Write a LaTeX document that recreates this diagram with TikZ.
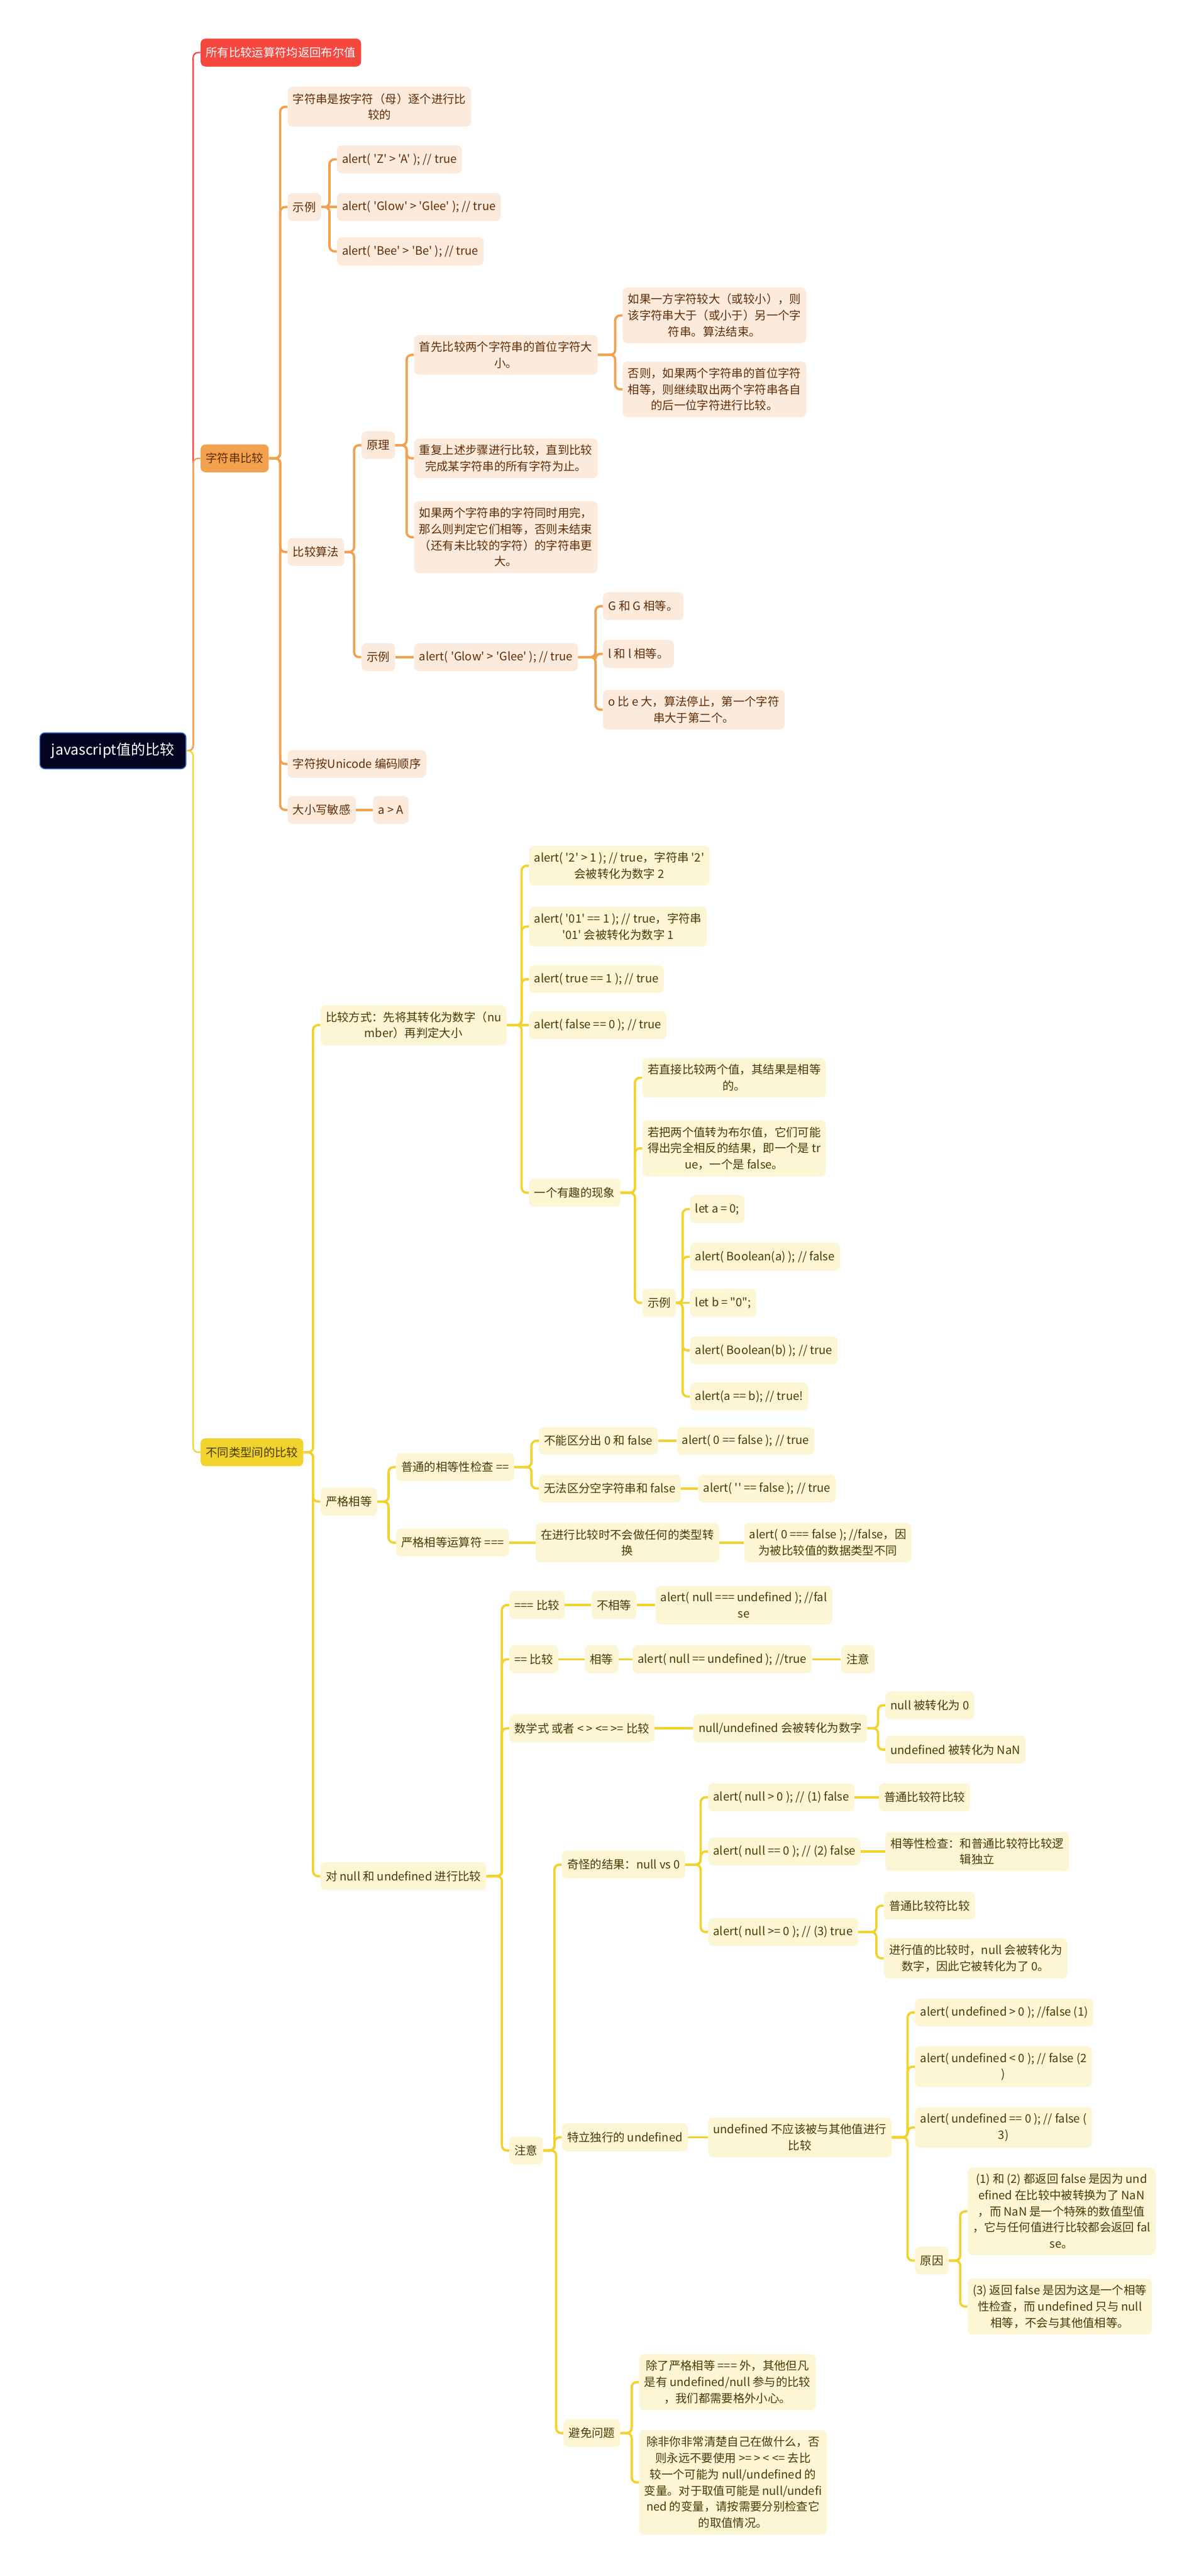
\documentclass[tikz,border=0pt]{standalone}
\usepackage{fontspec}
\newfontfamily\cjk{Noto Sans CJK SC}
\definecolor{rootnavy}{HTML}{03041F}
\definecolor{rootedge}{HTML}{3C78D8}
\definecolor{redbranch}{HTML}{F5473E}
\definecolor{orangebranch}{HTML}{F2A14F}
\definecolor{orangelight}{HTML}{FCEBDC}
\definecolor{orangeink}{HTML}{5E2C06}
\definecolor{yellowbranch}{HTML}{F2D22C}
\definecolor{yellowlight}{HTML}{FDF6D5}
\definecolor{yellowink}{HTML}{453A05}
\begin{document}
\begin{tikzpicture}[
		x=0.05cm, y=-0.05cm,
		box/.style={rounded corners=0.15cm, inner xsep=4.5pt, inner ysep=5.5pt, minimum height=0.85cm, align=center, anchor=west, font=\cjk\fontsize{10}{14}\selectfont},
		obox/.style={box, fill=orangelight, text=orangeink},
		ybox/.style={box, fill=yellowlight, text=yellowink},
		olink/.style={draw=orangebranch, line width=2pt, rounded corners=0.15cm},
		ylink/.style={draw=yellowbranch, line width=2pt, rounded corners=0.15cm},
		trunk/.style={line width=1.2pt, rounded corners=0.15cm}
		]
		
		\fill [white] (0,0) rectangle (730,1568);
		\useasboundingbox (0,0) rectangle (730,1568);
		
		% root and the three main branches
		\node (root) at (24,457) [box, fill=rootnavy, draw=rootedge, line width=0.8pt, text=white, inner xsep=3pt, minimum width=4.45cm, minimum height=1.1cm, font=\cjk\fontsize{12.5}{15}\selectfont] {javascript值的比较};
		\node (allbool) at (122,32) [box, fill=redbranch, text=white] {所有比较运算符均返回布尔值};
		\node (strcmp) at (122,279) [box, fill=orangebranch, text=orangeink] {字符串比较};
		\node (difftype) at (122,884) [box, fill=yellowbranch, text=yellowink] {不同类型间的比较};
		
		% string comparison
		\node (bychar) at (175,65) [obox] {字符串是按字符（母）逐个进行比\\较的};
		\node (strex) at (175,126) [obox] {示例};
		\node (strexa) at (205,97) [obox] {alert( 'Z' > 'A' ); // true};
		\node (strexb) at (205,126) [obox] {alert( 'Glow' > 'Glee' ); // true};
		\node (strexc) at (205,153) [obox] {alert( 'Bee' > 'Be' ); // true};
		\node (algo) at (175,336) [obox] {比较算法};
		\node (principle) at (220,271) [obox] {原理};
		\node (firstchar) at (252,216) [obox] {首先比较两个字符串的首位字符大\\小。};
		\node (bigger) at (379,192) [obox] {如果一方字符较大（或较小），则\\该字符串大于（或小于）另一个字\\符串。算法结束。};
		\node (otherwise) at (379,237) [obox] {否则，如果两个字符串的首位字符\\相等，则继续取出两个字符串各自\\的后一位字符进行比较。};
		\node (repeat) at (252,279) [obox] {重复上述步骤进行比较，直到比较\\完成某字符串的所有字符为止。};
		\node (bothend) at (252,327) [obox] {如果两个字符串的字符同时用完，\\那么则判定它们相等，否则未结束\\（还有未比较的字符）的字符串更\\大。};
		\node (algoex) at (220,400) [obox] {示例};
		\node (glow) at (252,400) [obox] {alert( 'Glow' > 'Glee' ); // true};
		\node (gg) at (367,369) [obox] {G 和 G 相等。};
		\node (ll) at (367,398) [obox] {l 和 l 相等。};
		\node (oe) at (367,432) [obox] {o 比 e 大，算法停止，第一个字符\\串大于第二个。};
		\node (unicode) at (175,465) [obox] {字符按Unicode 编码顺序};
		\node (casesens) at (175,493) [obox] {大小写敏感};
		\node (aA) at (227,493) [obox] {a > A};
		
		% comparison between types
		\node (tonum) at (195,624) [ybox] {比较方式：先将其转化为数字（nu\\mber）再判定大小};
		\node (twoone) at (322,527) [ybox] {alert( '2' > 1 ); // true，字符串 '2'\\会被转化为数字 2};
		\node (zeroone) at (322,564) [ybox] {alert( '01' == 1 ); // true，字符串\\'01' 会被转化为数字 1};
		\node (trueone) at (322,596) [ybox] {alert( true == 1 ); // true};
		\node (falsezero) at (322,624) [ybox] {alert( false == 0 ); // true};
		\node (funny) at (322,726) [ybox] {一个有趣的现象};
		\node (direct) at (391,656) [ybox] {若直接比较两个值，其结果是相等\\的。};
		\node (boolconv) at (391,699) [ybox] {若把两个值转为布尔值，它们可能\\得出完全相反的结果，即一个是 tr\\ue，一个是 false。};
		\node (funnyex) at (391,793) [ybox] {示例};
		\node (leta) at (420,736) [ybox] {let a = 0;};
		\node (boola) at (420,765) [ybox] {alert( Boolean(a) ); // false};
		\node (letb) at (420,793) [ybox] {let b = "0";};
		\node (boolb) at (420,822) [ybox] {alert( Boolean(b) ); // true};
		\node (aeqb) at (420,850) [ybox] {alert(a == b); // true!};
		
		\node (strict) at (195,914) [ybox] {严格相等};
		\node (looseeq) at (241,893) [ybox] {普通的相等性检查 ==};
		\node (zerofalse) at (328,877) [ybox] {不能区分出 0 和 false};
		\node (zerofalseex) at (412,877) [ybox] {alert( 0 == false ); // true};
		\node (emptyfalse) at (328,906) [ybox] {无法区分空字符串和 false};
		\node (emptyfalseex) at (425,906) [ybox] {alert( '' == false ); // true};
		\node (stricteq) at (241,939) [ybox] {严格相等运算符 ===};
		\node (noconv) at (326,939) [ybox] {在进行比较时不会做任何的类型转\\换};
		\node (noconvex) at (453,939) [ybox] {alert( 0 === false ); //false，因\\为被比较值的数据类型不同};
		
		\node (nullundef) at (195,1142) [ybox] {对 null 和 undefined 进行比较};
		\node (tripleeq) at (310,977) [ybox] {=== 比较};
		\node (noteq) at (360,977) [ybox] {不相等};
		\node (noteqex) at (399,977) [ybox] {alert( null === undefined ); //fal\\se};
		\node (doubleeq) at (310,1010) [ybox] {== 比较};
		\node (iseq) at (356,1010) [ybox] {相等};
		\node (iseqex) at (385,1010) [ybox] {alert( null == undefined ); //true};
		\node (iseqnote) at (512,1010) [ybox] {注意};
		\node (mathcmp) at (310,1052) [ybox] {数学式 或者 < > <= >= 比较};
		\node (tonumber) at (422,1052) [ybox] {null/undefined 会被转化为数字};
		\node (nullzero) at (539,1038) [ybox] {null 被转化为 0};
		\node (undefnan) at (539,1065) [ybox] {undefined 被转化为 NaN};
		
		\node (caution) at (310,1309) [ybox] {注意};
		\node (weird) at (342,1135) [ybox] {奇怪的结果：null vs 0};
		\node (nullgt) at (431,1094) [ybox] {alert( null > 0 ); // (1) false};
		\node (nullgtwhy) at (535,1094) [ybox] {普通比较符比较};
		\node (nulleq) at (431,1127) [ybox] {alert( null == 0 ); // (2) false};
		\node (nulleqwhy) at (539,1127) [ybox] {相等性检查：和普通比较符比较逻\\辑独立};
		\node (nullge) at (431,1176) [ybox] {alert( null >= 0 ); // (3) true};
		\node (nullgewhya) at (538,1160) [ybox] {普通比较符比较};
		\node (nullgewhyb) at (538,1192) [ybox] {进行值的比较时，null 会被转化为\\数字，因此它被转化为了 0。};
		
		\node (lonely) at (342,1301) [ybox] {特立独行的 undefined};
		\node (noundef) at (431,1301) [ybox] {undefined 不应该被与其他值进行\\比较};
		\node (undgt) at (557,1225) [ybox] {alert( undefined > 0 ); //false (1)};
		\node (undlt) at (557,1258) [ybox] {alert( undefined < 0 ); // false (2\\)};
		\node (undeq) at (557,1295) [ybox] {alert( undefined == 0 ); // false (\\3)};
		\node (reason) at (557,1376) [ybox] {原因};
		\node (reasona) at (589,1346) [ybox] {(1) 和 (2) 都返回 false 是因为 und\\efined 在比较中被转换为了 NaN\\，而 NaN 是一个特殊的数值型值\\，它与任何值进行比较都会返回 fal\\se。};
		\node (reasonb) at (589,1404) [ybox] {(3) 返回 false 是因为这是一个相等\\性检查，而 undefined 只与 null\\相等，不会与其他值相等。};
		
		\node (avoid) at (343,1481) [ybox] {避免问题};
		\node (avoida) at (389,1450) [ybox] {除了严格相等 === 外，其他但凡\\是有 undefined/null 参与的比较\\，我们都需要格外小心。};
		\node (avoidb) at (389,1511) [ybox] {除非你非常清楚自己在做什么，否\\则永远不要使用 >= > < <= 去比\\较一个可能为 null/undefined 的\\变量。对于取值可能是 null/undefi\\ned 的变量，请按需要分别检查它\\的取值情况。};
		
		% trunk
		\draw [trunk, draw=redbranch] (root.east) -| ([xshift=-0.22cm]allbool.west) -- (allbool.west);
		\draw [trunk, draw=orangebranch] (root.east) -| ([xshift=-0.22cm]strcmp.west) -- (strcmp.west);
		\draw [trunk, draw=yellowbranch] (root.east) -| ([xshift=-0.22cm]difftype.west) -- (difftype.west);
		
		% string comparison links
		\draw [olink] (strcmp.east) -| ([xshift=-0.22cm]bychar.west) -- (bychar.west);
		\draw [olink] (strcmp.east) -| ([xshift=-0.22cm]strex.west) -- (strex.west);
		\draw [olink] (strcmp.east) -| ([xshift=-0.22cm]algo.west) -- (algo.west);
		\draw [olink] (strcmp.east) -| ([xshift=-0.22cm]unicode.west) -- (unicode.west);
		\draw [olink] (strcmp.east) -| ([xshift=-0.22cm]casesens.west) -- (casesens.west);
		\draw [olink] (strex.east) -| ([xshift=-0.22cm]strexa.west) -- (strexa.west);
		\draw [olink] (strex.east) -- (strexb.west);
		\draw [olink] (strex.east) -| ([xshift=-0.22cm]strexc.west) -- (strexc.west);
		\draw [olink] (algo.east) -| ([xshift=-0.22cm]principle.west) -- (principle.west);
		\draw [olink] (algo.east) -| ([xshift=-0.22cm]algoex.west) -- (algoex.west);
		\draw [olink] (principle.east) -| ([xshift=-0.22cm]firstchar.west) -- (firstchar.west);
		\draw [olink] (principle.east) -| ([xshift=-0.22cm]repeat.west) -- (repeat.west);
		\draw [olink] (principle.east) -| ([xshift=-0.22cm]bothend.west) -- (bothend.west);
		\draw [olink] (firstchar.east) -| ([xshift=-0.22cm]bigger.west) -- (bigger.west);
		\draw [olink] (firstchar.east) -| ([xshift=-0.22cm]otherwise.west) -- (otherwise.west);
		\draw [olink] (algoex.east) -- (glow.west);
		\draw [olink] (glow.east) -| ([xshift=-0.22cm]gg.west) -- (gg.west);
		\draw [olink] (glow.east) -| ([xshift=-0.22cm]ll.west) -- (ll.west);
		\draw [olink] (glow.east) -| ([xshift=-0.22cm]oe.west) -- (oe.west);
		\draw [olink] (casesens.east) -- (aA.west);
		
		% type comparison links
		\draw [ylink] (difftype.east) -| ([xshift=-0.22cm]tonum.west) -- (tonum.west);
		\draw [ylink] (difftype.east) -| ([xshift=-0.22cm]strict.west) -- (strict.west);
		\draw [ylink] (difftype.east) -| ([xshift=-0.22cm]nullundef.west) -- (nullundef.west);
		\draw [ylink] (tonum.east) -| ([xshift=-0.22cm]twoone.west) -- (twoone.west);
		\draw [ylink] (tonum.east) -| ([xshift=-0.22cm]zeroone.west) -- (zeroone.west);
		\draw [ylink] (tonum.east) -| ([xshift=-0.22cm]trueone.west) -- (trueone.west);
		\draw [ylink] (tonum.east) -- (falsezero.west);
		\draw [ylink] (tonum.east) -| ([xshift=-0.22cm]funny.west) -- (funny.west);
		\draw [ylink] (funny.east) -| ([xshift=-0.22cm]direct.west) -- (direct.west);
		\draw [ylink] (funny.east) -| ([xshift=-0.22cm]boolconv.west) -- (boolconv.west);
		\draw [ylink] (funny.east) -| ([xshift=-0.22cm]funnyex.west) -- (funnyex.west);
		\draw [ylink] (funnyex.east) -| ([xshift=-0.22cm]leta.west) -- (leta.west);
		\draw [ylink] (funnyex.east) -| ([xshift=-0.22cm]boola.west) -- (boola.west);
		\draw [ylink] (funnyex.east) -- (letb.west);
		\draw [ylink] (funnyex.east) -| ([xshift=-0.22cm]boolb.west) -- (boolb.west);
		\draw [ylink] (funnyex.east) -| ([xshift=-0.22cm]aeqb.west) -- (aeqb.west);
		\draw [ylink] (strict.east) -| ([xshift=-0.22cm]looseeq.west) -- (looseeq.west);
		\draw [ylink] (strict.east) -| ([xshift=-0.22cm]stricteq.west) -- (stricteq.west);
		\draw [ylink] (looseeq.east) -| ([xshift=-0.22cm]zerofalse.west) -- (zerofalse.west);
		\draw [ylink] (looseeq.east) -| ([xshift=-0.22cm]emptyfalse.west) -- (emptyfalse.west);
		\draw [ylink] (zerofalse.east) -- (zerofalseex.west);
		\draw [ylink] (emptyfalse.east) -- (emptyfalseex.west);
		\draw [ylink] (stricteq.east) -- (noconv.west);
		\draw [ylink] (noconv.east) -- (noconvex.west);
		\draw [ylink] (nullundef.east) -| ([xshift=-0.22cm]tripleeq.west) -- (tripleeq.west);
		\draw [ylink] (nullundef.east) -| ([xshift=-0.22cm]doubleeq.west) -- (doubleeq.west);
		\draw [ylink] (nullundef.east) -| ([xshift=-0.22cm]mathcmp.west) -- (mathcmp.west);
		\draw [ylink] (nullundef.east) -| ([xshift=-0.22cm]caution.west) -- (caution.west);
		\draw [ylink] (tripleeq.east) -- (noteq.west);
		\draw [ylink] (noteq.east) -- (noteqex.west);
		\draw [ylink] (doubleeq.east) -- (iseq.west);
		\draw [ylink] (iseq.east) -- (iseqex.west);
		\draw [ylink] (iseqex.east) -- (iseqnote.west);
		\draw [ylink] (mathcmp.east) -- (tonumber.west);
		\draw [ylink] (tonumber.east) -| ([xshift=-0.22cm]nullzero.west) -- (nullzero.west);
		\draw [ylink] (tonumber.east) -| ([xshift=-0.22cm]undefnan.west) -- (undefnan.west);
		\draw [ylink] (caution.east) -| ([xshift=-0.22cm]weird.west) -- (weird.west);
		\draw [ylink] (caution.east) -| ([xshift=-0.22cm]lonely.west) -- (lonely.west);
		\draw [ylink] (caution.east) -| ([xshift=-0.22cm]avoid.west) -- (avoid.west);
		\draw [ylink] (weird.east) -| ([xshift=-0.22cm]nullgt.west) -- (nullgt.west);
		\draw [ylink] (weird.east) -| ([xshift=-0.22cm]nulleq.west) -- (nulleq.west);
		\draw [ylink] (weird.east) -| ([xshift=-0.22cm]nullge.west) -- (nullge.west);
		\draw [ylink] (nullgt.east) -- (nullgtwhy.west);
		\draw [ylink] (nulleq.east) -- (nulleqwhy.west);
		\draw [ylink] (nullge.east) -| ([xshift=-0.22cm]nullgewhya.west) -- (nullgewhya.west);
		\draw [ylink] (nullge.east) -| ([xshift=-0.22cm]nullgewhyb.west) -- (nullgewhyb.west);
		\draw [ylink] (lonely.east) -- (noundef.west);
		\draw [ylink] (noundef.east) -| ([xshift=-0.22cm]undgt.west) -- (undgt.west);
		\draw [ylink] (noundef.east) -| ([xshift=-0.22cm]undlt.west) -- (undlt.west);
		\draw [ylink] (noundef.east) -| ([xshift=-0.22cm]undeq.west) -- (undeq.west);
		\draw [ylink] (noundef.east) -| ([xshift=-0.22cm]reason.west) -- (reason.west);
		\draw [ylink] (reason.east) -| ([xshift=-0.22cm]reasona.west) -- (reasona.west);
		\draw [ylink] (reason.east) -| ([xshift=-0.22cm]reasonb.west) -- (reasonb.west);
		\draw [ylink] (avoid.east) -| ([xshift=-0.22cm]avoida.west) -- (avoida.west);
		\draw [ylink] (avoid.east) -| ([xshift=-0.22cm]avoidb.west) -- (avoidb.west);
	\end{tikzpicture}
\end{document}
